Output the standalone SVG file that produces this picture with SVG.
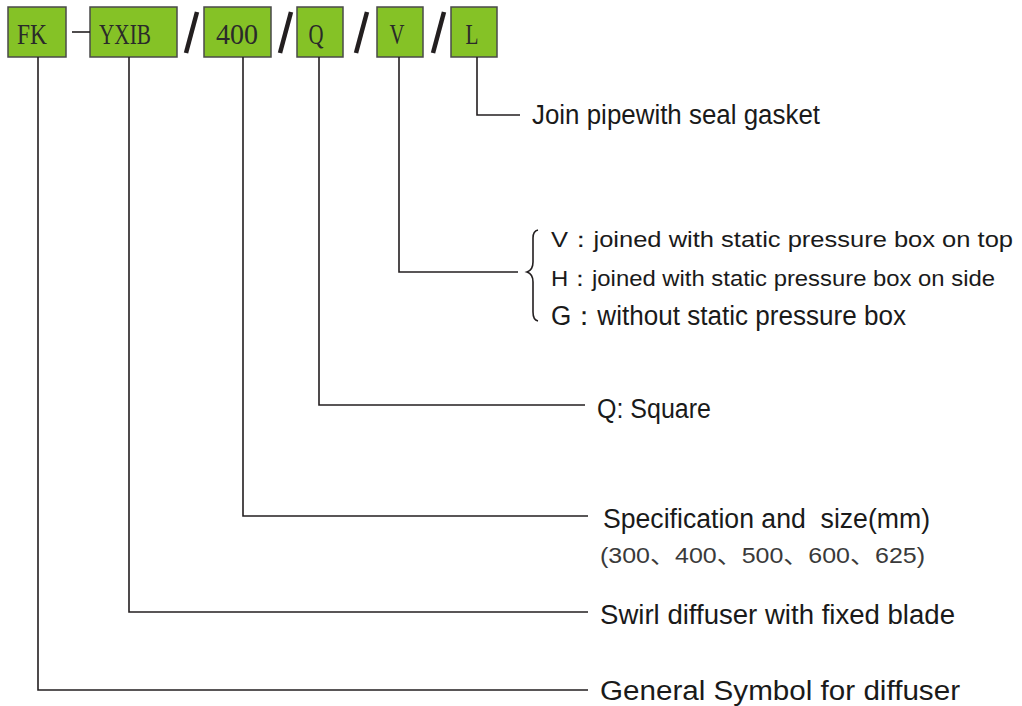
<svg xmlns="http://www.w3.org/2000/svg" width="1022" height="706" viewBox="0 0 1022 706">
<style>
.box{fill:#85c226;stroke:#4a4a4a;stroke-width:1.5}
.bt{font-family:"Liberation Serif","DejaVu Serif",serif;font-size:30px;fill:#2a2a2a;text-anchor:middle}
.ln{fill:none;stroke:#231f20;stroke-width:1.6}
.sl{stroke:#231f20;stroke-width:4.5;stroke-linecap:butt}
.lb{font-family:"Liberation Sans","Arial",sans-serif;font-size:27px;fill:#1a1a1a;white-space:pre}
.vh{font-size:22px}
.sm{font-family:"Liberation Sans","Noto Sans CJK SC",sans-serif;font-size:22px;fill:#3a3a3a}
</style>
<rect width="1022" height="706" fill="#ffffff"/>
<g id="node-FK"><rect class="box" x="8" y="7" width="58" height="50"/><text class="bt" x="32" y="44" textLength="30" lengthAdjust="spacingAndGlyphs">FK</text></g>
<g id="node-YXIB"><rect class="box" x="90" y="7" width="87" height="50"/><text class="bt" x="125" y="44" textLength="52" lengthAdjust="spacingAndGlyphs">YXIB</text></g>
<g id="node-400"><rect class="box" x="204" y="7" width="67" height="50"/><text class="bt" x="237" y="44" textLength="42" lengthAdjust="spacingAndGlyphs">400</text></g>
<g id="node-Q"><rect class="box" x="297" y="7" width="46" height="50"/><text class="bt" x="316" y="44" textLength="15" lengthAdjust="spacingAndGlyphs">Q</text></g>
<g id="node-V"><rect class="box" x="377" y="7" width="46" height="50"/><text class="bt" x="397" y="44" textLength="15" lengthAdjust="spacingAndGlyphs">V</text></g>
<g id="node-L"><rect class="box" x="451" y="7" width="46" height="50"/><text class="bt" x="472" y="44" textLength="13" lengthAdjust="spacingAndGlyphs">L</text></g>
<g id="separators">
<line class="ln" x1="72" y1="32" x2="90" y2="32"/>
<line class="sl" x1="197" y1="12" x2="186" y2="53"/>
<line class="sl" x1="291" y1="12" x2="280" y2="53"/>
<line class="sl" x1="367" y1="12" x2="356" y2="53"/>
<line class="sl" x1="444" y1="12" x2="433" y2="53"/>
</g>
<g id="connectors">
<polyline class="ln" points="477,57 477,115 520,115"/>
<polyline class="ln" points="399,57 399,272 518,272"/>
<polyline class="ln" points="319,57 319,405 585,405"/>
<polyline class="ln" points="243,57 243,516 588,516"/>
<polyline class="ln" points="129,57 129,612 588,612"/>
<polyline class="ln" points="38,57 38,690 588,690"/>
<path class="ln" stroke-width="2" d="M538,230 Q533,231 533,238 L533,262 Q533,270 527,272 Q533,274 533,282 L533,312 Q533,320 538,321"/>
</g>
<g id="labels">
<text class="lb" x="532" y="124" textLength="288" lengthAdjust="spacingAndGlyphs">Join pipewith seal gasket</text>
<text class="lb vh" x="551" y="247" textLength="462" lengthAdjust="spacingAndGlyphs">V：joined with static pressure box on top</text>
<text class="lb vh" x="551" y="286" textLength="444" lengthAdjust="spacingAndGlyphs">H：joined with static pressure box on side</text>
<text class="lb" x="551" y="325" textLength="355" lengthAdjust="spacingAndGlyphs">G：without static pressure box</text>
<text class="lb" x="597" y="418" textLength="114" lengthAdjust="spacingAndGlyphs">Q: Square</text>
<text class="lb" x="603" y="528" textLength="327" lengthAdjust="spacingAndGlyphs">Specification and  size(mm)</text>
<text class="sm" x="600" y="563" textLength="325" lengthAdjust="spacingAndGlyphs">(300、400、500、600、625)</text>
<text class="lb" x="600" y="624" textLength="355" lengthAdjust="spacingAndGlyphs">Swirl diffuser with fixed blade</text>
<text class="lb" x="600" y="700" textLength="360" lengthAdjust="spacingAndGlyphs">General Symbol for diffuser</text>
</g>
</svg>
